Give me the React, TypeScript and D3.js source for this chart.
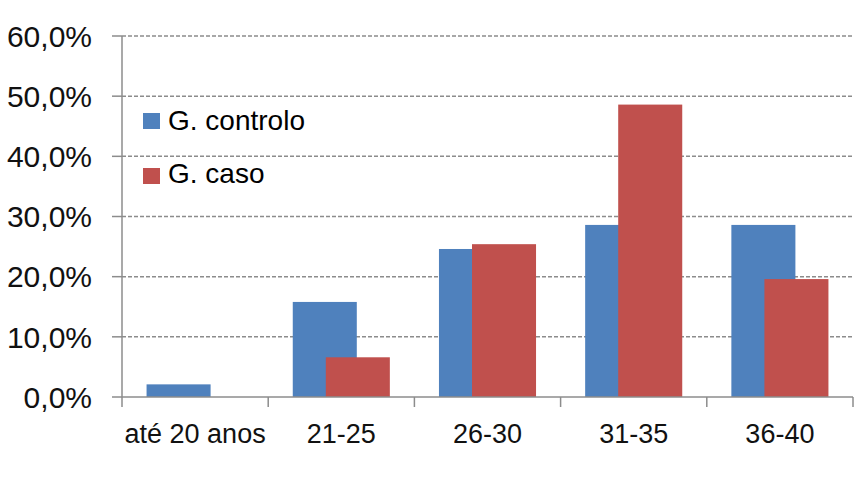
import React from "react";
import * as d3 from "d3";

const categories = ["até 20 anos", "21-25", "26-30", "31-35", "36-40"];
const controlo = [2.1, 15.8, 24.6, 28.6, 28.6];
const caso = [0, 6.6, 25.4, 48.6, 19.6];
const yTicks = [0, 10, 20, 30, 40, 50, 60];
const seriesNames = ["G. controlo", "G. caso"];
const colors = ["#4F81BD", "#C0504D"];

export default function App() {
  const W = 864, H = 483;
  const left = 122, right = 853, top = 36, bottom = 397;
  const y = d3.scaleLinear().domain([0, 60]).range([bottom, top]);
  const x = d3.scaleBand().domain(categories).range([left, right]).padding(0);
  const bw = x.bandwidth();
  const barW = bw * 0.438;
  const shift = bw * 0.113;
  const fmt = (v: number) => v.toFixed(1).replace(".", ",") + "%";
  const font = "Liberation Sans, Arial, sans-serif";
  return (
    <svg width={W} height={H} style={{ position: "absolute", left: 0, top: 0, background: "#fff" }} fontFamily={font}>
      {yTicks.filter(t => t > 0).map(t => (
        <line key={"g" + t} x1={left} x2={right} y1={y(t)} y2={y(t)} stroke="#8c8c8c" strokeWidth={1.5} strokeDasharray="4,2" />
      ))}
      {categories.map((c, i) => {
        const cx = (x(c) as number) + bw / 2;
        return (
          <g key={c}>
            <rect x={cx - shift - barW / 2} y={y(controlo[i])} width={barW} height={bottom - y(controlo[i])} fill={colors[0]} />
            {caso[i] > 0 && (
              <rect x={cx + shift - barW / 2} y={y(caso[i])} width={barW} height={bottom - y(caso[i])} fill={colors[1]} />
            )}
          </g>
        );
      })}
      <line x1={left} x2={left} y1={top} y2={bottom} stroke="#8c8c8c" strokeWidth={1.5} />
      <line x1={left} x2={right} y1={bottom} y2={bottom} stroke="#8c8c8c" strokeWidth={1.5} />
      {yTicks.map(t => (
        <g key={"t" + t}>
          <line x1={left - 10} x2={left} y1={y(t)} y2={y(t)} stroke="#8c8c8c" strokeWidth={1.5} />
          <text x={92} y={y(t)} dy="0.36em" textAnchor="end" fontSize={30} fill="#111">{fmt(t)}</text>
        </g>
      ))}
      {categories.map((c, i) => (
        <line key={"xt" + i} x1={x(c) as number} x2={x(c) as number} y1={bottom} y2={bottom + 10} stroke="#8c8c8c" strokeWidth={1.5} />
      ))}
      <line x1={right} x2={right} y1={bottom} y2={bottom + 10} stroke="#8c8c8c" strokeWidth={1.5} />
      {categories.map(c => (
        <text key={"xl" + c} x={(x(c) as number) + bw / 2} y={443} textAnchor="middle" fontSize={27} fill="#111">{c}</text>
      ))}
      {seriesNames.map((s, i) => (
        <g key={s}>
          <rect x={143} y={113 + i * 55} width={17} height={16} fill={colors[i]} />
          <text x={168} y={129.5 + i * 53} fontSize={28} fill="#000">{s}</text>
        </g>
      ))}
    </svg>
  );
}
